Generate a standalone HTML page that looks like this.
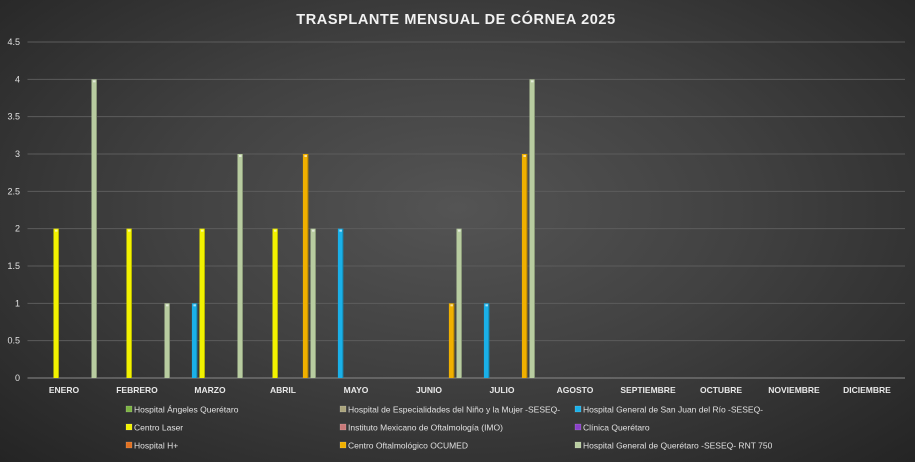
<!DOCTYPE html>
<html><head><meta charset="utf-8"><style>
html,body{margin:0;padding:0}
body{width:915px;height:462px;overflow:hidden;background:radial-gradient(ellipse at 50% 45%,#545454 0%,#414141 45%,#242424 100%);font-family:"Liberation Sans",sans-serif}
svg{position:absolute;left:0;top:0}
</style></head><body>
<svg width="915" height="462">
<text x="456" y="24" text-anchor="middle" fill="#f2f2f2" font-size="14.5" font-weight="bold" letter-spacing="0.6">TRASPLANTE MENSUAL DE CÓRNEA 2025</text>
<g id="grid"></g><g id="bars"></g><g id="legend"></g>
</svg>
<script>
const categories=["ENERO","FEBRERO","MARZO","ABRIL","MAYO","JUNIO","JULIO","AGOSTO","SEPTIEMBRE","OCTUBRE","NOVIEMBRE","DICIEMBRE"];
const seriesNames=["Hospital Ángeles Querétaro","Hospital de Especialidades del Niño y la Mujer -SESEQ-","Hospital General de San Juan del Río -SESEQ-","Centro Laser","Instituto Mexicano de Oftalmología (IMO)","Clínica Querétaro","Hospital H+","Centro Oftalmológico OCUMED","Hospital General de Querétaro -SESEQ- RNT 750"];
const seriesColors=["#7cb342","#aaa47c","#1ab0e8","#f2f200","#c87878","#8a40c8","#e07020","#f0b000","#b8cca0"];
const sAngeles=[0,0,0,0,0,0,0,0,0,0,0,0];
const sEspecialidades=[0,0,0,0,0,0,0,0,0,0,0,0];
const sSanJuan=[0,0,1,0,2,0,1,0,0,0,0,0];
const sLaser=[2,2,2,2,0,0,0,0,0,0,0,0];
const sIMO=[0,0,0,0,0,0,0,0,0,0,0,0];
const sClinica=[0,0,0,0,0,0,0,0,0,0,0,0];
const sHplus=[0,0,0,0,0,0,0,0,0,0,0,0];
const sOcumed=[0,0,0,3,0,1,3,0,0,0,0,0];
const sRNT=[4,1,3,2,0,2,4,0,0,0,0,0];
const yTicks=["0","0.5","1","1.5","2","2.5","3","3.5","4","4.5"];
const series=[sAngeles,sEspecialidades,sSanJuan,sLaser,sIMO,sClinica,sHplus,sOcumed,sRNT];
const NS="http://www.w3.org/2000/svg";
const x0=27.5,catW=73,y0=378,yTop=42,yMax=4.5;
const y=v=>y0-(v/yMax)*(y0-yTop);
function mk(t,a,p){const e=document.createElementNS(NS,t);for(const k in a)e.setAttribute(k,a[k]);p.appendChild(e);return e;}
const grid=document.getElementById('grid');
yTicks.forEach(t=>{const v=parseFloat(t);
 const l=mk('line',{x1:x0,x2:905,y1:y(v),y2:y(v),stroke:v===0?'#8a8a8a':'#5c5c5c','stroke-width':1},grid);
 
 
 const tx=mk('text',{x:20,y:y(v)+3,'text-anchor':'end',fill:'#e0e0e0','font-size':9},grid);tx.textContent=t;
 
 
});
categories.forEach((c,i)=>{const tx=mk('text',{x:x0+catW*i+catW/2,y:393,'text-anchor':'middle',fill:'#e8e8e8','font-size':8.5,'font-weight':'bold'},grid);tx.textContent=c;
 
 });
const bars=document.getElementById('bars');
series.forEach((s,si)=>s.forEach((v,ci)=>{if(!v)return;
 const bx=x0+catW*ci+5.7+si*7.6-2.5;
 const r=mk('rect',{x:bx,y:y(v),width:5.5,height:y0-y(v),fill:seriesColors[si]},bars);
 
 
 mk('rect',{x:bx+4.5,y:y(v),width:1,height:y0-y(v),fill:'rgba(0,0,0,0.25)'},bars);
 mk('rect',{x:bx+1.5,y:y(v)+1,width:2.5,height:2,fill:'rgba(255,255,255,0.6)'},bars);
}));
const leg=document.getElementById('legend');
const lx=[126,340,575],ly=[410,428,446];
seriesNames.forEach((n,i)=>{const g=mk('g',{},leg);
 
 
 const cx=lx[i%3],cy=ly[Math.floor(i/3)];
 mk('rect',{x:cx,y:cy-4,width:6,height:6,fill:seriesColors[i],stroke:'rgba(255,255,255,0.3)','stroke-width':0.5},g);
 const t=mk('text',{x:cx+8,y:cy+2.5,fill:'#e0e0e0','font-size':8.5},g);t.textContent=n;});
</script>
</body></html>
